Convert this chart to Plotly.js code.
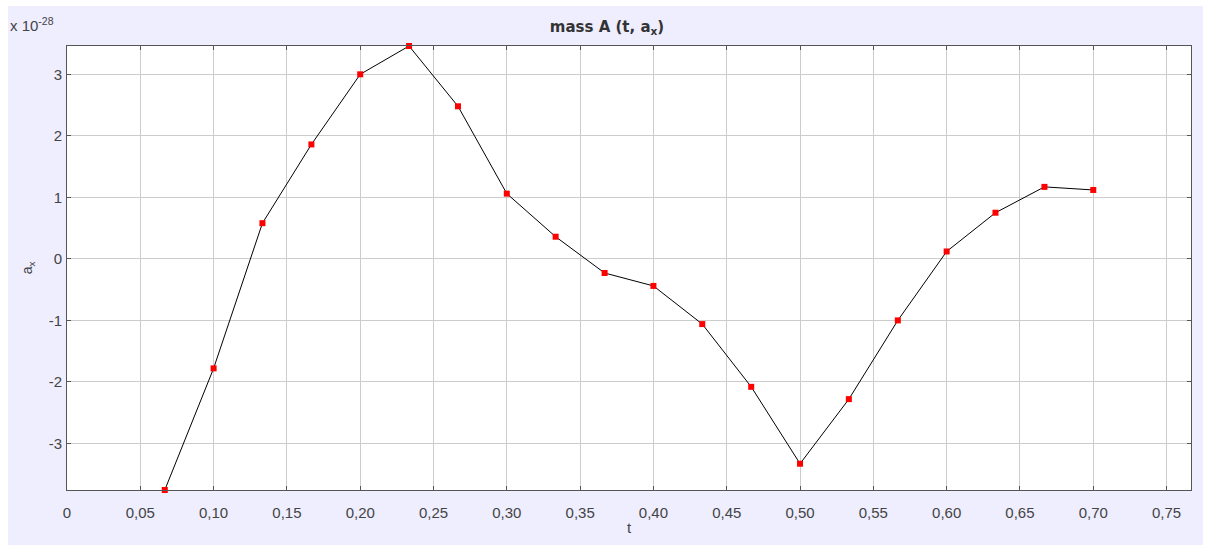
<!DOCTYPE html>
<html>
<head>
<meta charset="utf-8">
<script src="https://cdn.plot.ly/plotly-3.0.1.min.js"></script>
<style>html,body{margin:0;padding:0;background:#fff;}#chart{width:1214px;height:546px;}</style>
</head>
<body>
<div id="chart"></div>
<script>
const tValues = [0.0667, 0.1, 0.1333, 0.1667, 0.2, 0.2333, 0.2667, 0.3, 0.3333, 0.3667, 0.4, 0.4333, 0.4667, 0.5, 0.5333, 0.5667, 0.6, 0.6333, 0.6667, 0.7];
const axValues = [-3.757, -1.78, 0.58, 1.86, 3.0, 3.46, 2.48, 1.06, 0.36, -0.23, -0.44, -1.06, -2.08, -3.33, -2.28, -1.0, 0.12, 0.75, 1.17, 1.12];
const xTickVals = [0, 0.05, 0.10, 0.15, 0.20, 0.25, 0.30, 0.35, 0.40, 0.45, 0.50, 0.55, 0.60, 0.65, 0.70, 0.75];
const xTickText = ["0", "0,05", "0,10", "0,15", "0,20", "0,25", "0,30", "0,35", "0,40", "0,45", "0,50", "0,55", "0,60", "0,65", "0,70", "0,75"];
const yTickVals = [-3, -2, -1, 0, 1, 2, 3];
const yTickText = ["-3", "-2", "-1", "0", "1", "2", "3"];

const font = "Liberation Sans, Arial, sans-serif";
const trace = {
  x: tValues, y: axValues, type: 'scatter', mode: 'lines+markers',
  line: {color: '#000000', width: 1},
  marker: {symbol: 'square', size: 6, color: '#FF0000', line: {width: 0}},
  cliponaxis: false, hoverinfo: 'skip', showlegend: false
};
const axisCommon = {
  showline: true, linecolor: '#555555', linewidth: 1, mirror: 'allticks',
  ticks: 'inside', ticklen: 4, tickcolor: '#555555', tickwidth: 1,
  showgrid: true, gridcolor: '#CCCCCC', gridwidth: 1, zeroline: false,
  tickfont: {family: font, size: 15, color: '#444444'}, tickmode: 'array'
};
const layout = {
  width: 1214, height: 546,
  margin: {l: 67, r: 23, t: 46, b: 56, pad: 0},
  paper_bgcolor: '#FFFFFF', plot_bgcolor: '#FFFFFF',
  title: {text: '<b>mass A (t, a<sub>x</sub>)</b>', font: {family: 'DejaVu Sans, sans-serif', size: 15, color: '#333333'}, x: 0.5, xanchor: 'center', y: 0.951, yanchor: 'middle'},
  xaxis: Object.assign({}, axisCommon, {
    range: [0, 0.76667], tickvals: xTickVals, ticktext: xTickText, ticklabelstandoff: 9,
    title: {text: 't', font: {family: font, size: 15, color: '#444444'}, standoff: 2}
  }),
  yaxis: Object.assign({}, axisCommon, {
    range: [-3.757, 3.46], tickvals: yTickVals, ticktext: yTickText, ticklabelstandoff: 1,
    title: {text: 'a<sub>x</sub>', font: {family: font, size: 14, color: '#444444'}, standoff: 12}
  }),
  shapes: [
    {type: 'rect', xref: 'paper', yref: 'paper', x0: -0.0525, x1: 1.0107, y0: -0.1239, y1: 1.0901, fillcolor: '#EEEEFF', line: {width: 0}, layer: 'below'},
    {type: 'rect', xref: 'paper', yref: 'paper', x0: 0, x1: 1, y0: 0, y1: 1, fillcolor: '#FFFFFF', line: {width: 0}, layer: 'below'}
  ],
  annotations: [
    {text: 'x 10<sup>-28</sup>', xref: 'paper', yref: 'paper', x: -0.0525, y: 1.0495, xanchor: 'left', yanchor: 'middle', showarrow: false, font: {family: font, size: 15, color: '#444444'}}
  ]
};
Plotly.newPlot('chart', [trace], layout, {displayModeBar: false, staticPlot: true});
</script>
</body>
</html>
